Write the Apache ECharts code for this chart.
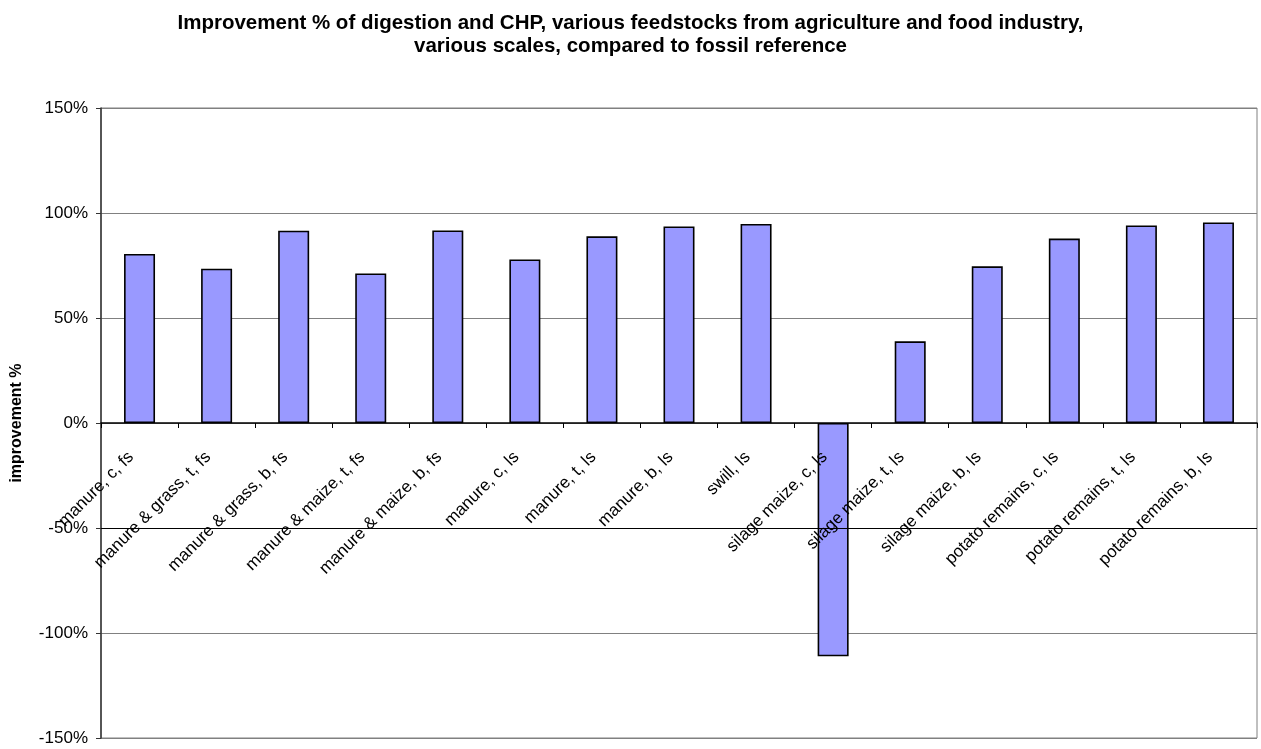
<!DOCTYPE html>
<html>
<head>
<meta charset="utf-8">
<script src="https://cdn.jsdelivr.net/npm/echarts@6/dist/echarts.min.js"></script>
<style>
  html, body { margin: 0; padding: 0; background: #fff; }
  #chart { width: 1261px; height: 749px; }
</style>
</head>
<body>
<div id="chart"></div>
<script>
// Feedstock / scale combinations (c, t, b = plant size; fs = farm scale, ls = large scale)
const categories = [
  'manure, c, fs',
  'manure & grass, t, fs',
  'manure & grass, b, fs',
  'manure & maize, t, fs',
  'manure & maize, b, fs',
  'manure, c, ls',
  'manure, t, ls',
  'manure, b, ls',
  'swill, ls',
  'silage maize, c, ls',
  'silage maize, t, ls',
  'silage maize, b, ls',
  'potato remains, c, ls',
  'potato remains, t, ls',
  'potato remains, b, ls'
];

// Improvement (%) compared to the fossil reference
const improvement = [80.5, 73.5, 91.6, 71.2, 91.7, 77.9, 88.9, 93.6, 94.8, -111.1, 38.9, 74.6, 87.8, 94.1, 95.5];

// Value axis ticks (%)
const yTicks = [-150, -100, -50, 0, 50, 100, 150];

// Reference line drawn darker across the plot (%)
const darkRefLine = [-50];

const FONT = '"Liberation Sans", Arial, Helvetica, sans-serif';

const GRID_TOP = 108;
const GRID_BOTTOM = 11;
const CHART_H = 749;

const chart = echarts.init(document.getElementById('chart'), null, { renderer: 'canvas' });

// The category axis sits on the 0% line: shift it up from the plot bottom
const yMin = yTicks[0];
const yMax = yTicks[yTicks.length - 1];
const plotH = CHART_H - GRID_TOP - GRID_BOTTOM;
const zeroOffset = -plotH * (0 - yMin) / (yMax - yMin);

chart.setOption({
  backgroundColor: '#ffffff',
  animation: false,
  title: {
    text: 'Improvement % of digestion and CHP, various feedstocks from agriculture and food industry,\nvarious scales, compared to fossil reference',
    left: 'center',
    top: 7,
    textStyle: {
      fontFamily: FONT,
      fontSize: 20.5,
      fontWeight: 'bold',
      color: '#000',
      lineHeight: 23
    }
  },
  grid: {
    left: 101,
    right: 4,
    top: GRID_TOP,
    bottom: GRID_BOTTOM,
    show: true,
    borderColor: '#808080',
    borderWidth: 1,
    containLabel: false,
    outerBoundsMode: 'none'
  },
  xAxis: {
    type: 'category',
    data: categories,
    boundaryGap: true,
    position: 'bottom',
    offset: zeroOffset,
    z: 10,
    axisLine: { show: true, onZero: false, lineStyle: { color: '#000', width: 1.5 } },
    axisTick: { show: true, length: 5, inside: false, alignWithLabel: false, lineStyle: { color: '#000', width: 1 } },
    axisLabel: {
      interval: 0,
      rotate: 45,
      margin: 23,
      padding: [0, 12, 0, 0],
      fontFamily: FONT,
      fontSize: 17,
      color: '#000'
    },
    splitLine: { show: false }
  },
  yAxis: {
    type: 'value',
    min: yMin,
    max: yMax,
    interval: yTicks[1] - yTicks[0],
    name: 'improvement %',
    nameLocation: 'middle',
    nameGap: 76,
    nameRotate: 90,
    nameTextStyle: {
      fontFamily: FONT,
      fontSize: 16,
      fontWeight: 'bold',
      color: '#000'
    },
    axisLine: { show: true, lineStyle: { color: '#333', width: 1.5 } },
    axisTick: { show: true, length: 5, inside: false, lineStyle: { color: '#333', width: 1 } },
    axisLabel: {
      formatter: '{value}%',
      margin: 13,
      fontFamily: FONT,
      fontSize: 17,
      color: '#000'
    },
    splitLine: { show: true, lineStyle: { color: '#808080', width: 1 } }
  },
  series: [
    {
      type: 'bar',
      data: improvement,
      barWidth: 31,
      itemStyle: {
        color: '#9999FF',
        borderColor: '#000000',
        borderWidth: 1.6
      },
      emphasis: { disabled: true },
      markLine: {
        silent: true,
        symbol: ['none', 'none'],
        label: { show: false },
        lineStyle: { color: '#000', width: 1, type: 'solid' },
        data: darkRefLine.map(v => ({ yAxis: v }))
      }
    }
  ]
});
</script>
</body>
</html>
